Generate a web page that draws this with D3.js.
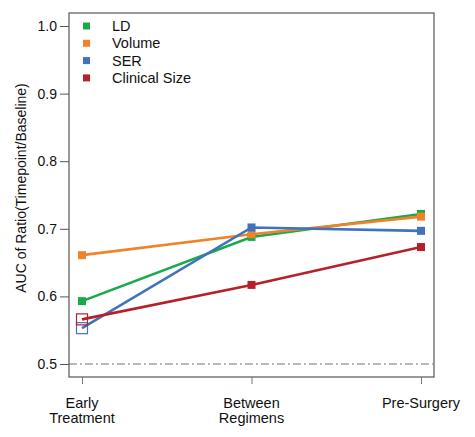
<!DOCTYPE html>
<html><head><meta charset="utf-8">
<script src="https://cdn.jsdelivr.net/npm/d3@7"></script>
<style>body{margin:0;background:#fff}svg{display:block;font-family:"Liberation Sans",Arial,sans-serif}</style>
</head><body><svg id="c" width="475" height="437"></svg>
<script>
const categories = ["Early\nTreatment", "Between\nRegimens", "Pre-Surgery"];
const seriesNames = ["LD", "Volume", "SER", "Clinical Size"];
const colors = ["#1aaa4a", "#f0822a", "#3f74bd", "#b5202a"];
const ldValues = [0.593, 0.688, 0.722];
const volumeValues = [0.661, 0.692, 0.718];
const serValues = [0.553, 0.702, 0.697];
const clinicalValues = [0.566, 0.617, 0.673];
const hollowFirst = [false, false, true, true];
const yTicks = [0.5, 0.6, 0.7, 0.8, 0.9, 1.0];
const refLine = 0.5;

const seriesValues = [ldValues, volumeValues, serValues, clinicalValues];
const svg = d3.select("#c");
const L = 69, R = 434, T = 13, B = 377;
const x = d3.scalePoint().domain(d3.range(categories.length)).range([82, 421]);
const y = d3.scaleLinear().domain([0.5, 1.0]).range([364, 26]);

// frame
svg.append("rect").attr("x", L).attr("y", T).attr("width", R - L).attr("height", B - T)
  .attr("fill", "none").attr("stroke", "#555").attr("stroke-width", 1.2);

// reference line
svg.append("line").attr("x1", L).attr("x2", R).attr("y1", y(refLine)).attr("y2", y(refLine))
  .attr("stroke", "#777").attr("stroke-width", 1.2).attr("stroke-dasharray", "8,3,2,3");

// y axis
const ya = svg.append("g").attr("transform", `translate(${L},0)`)
  .call(d3.axisLeft(y).tickValues(yTicks).tickFormat(d3.format(".1f")).tickSize(9).tickPadding(3));
ya.select(".domain").remove();
ya.selectAll("line").attr("stroke", "#555");
ya.selectAll("text").attr("font-size", 14).attr("fill", "#111").attr("font-family", "Liberation Sans, Arial, sans-serif");

// x axis
const xa = svg.append("g").attr("transform", `translate(0,${B})`)
  .call(d3.axisBottom(x).tickSize(7).tickFormat(""));
xa.select(".domain").remove();
xa.selectAll("line").attr("stroke", "#777");
categories.forEach((c, i) => {
  const t = svg.append("text").attr("x", x(i)).attr("y", 408).attr("text-anchor", "middle")
    .attr("font-size", 14.5).attr("fill", "#111");
  c.split("\n").forEach((ln, j) => t.append("tspan").attr("x", x(i)).attr("dy", j ? 15 : 0).text(ln));
});

// y label
svg.append("text").attr("transform", "translate(26,188) rotate(-90)").attr("text-anchor", "middle")
  .attr("font-size", 14).attr("fill", "#111").text("AUC of Ratio(Timepoint/Baseline)");

// lines
const line = d3.line().x((d, i) => x(i)).y(d => y(d));
seriesValues.forEach((vals, s) => {
  svg.append("path").datum(vals).attr("d", line).attr("fill", "none")
    .attr("stroke", colors[s]).attr("stroke-width", 2.6);
});
seriesValues.forEach((vals, s) => {
  vals.forEach((v, i) => {
    if (i === 0 && hollowFirst[s]) {
      svg.append("rect").attr("x", x(i) - 5.5).attr("y", y(v) - 5.5).attr("width", 11).attr("height", 11)
        .attr("fill", "none").attr("stroke", colors[s]).attr("stroke-width", 1.2);
    } else {
      svg.append("rect").attr("x", x(i) - 4).attr("y", y(v) - 4).attr("width", 8).attr("height", 8)
        .attr("fill", colors[s]);
    }
  });
});

// legend
seriesNames.forEach((n, s) => {
  const yy = 26 + s * 17.3;
  svg.append("rect").attr("x", 83).attr("y", yy - 3.5).attr("width", 7).attr("height", 7).attr("fill", colors[s]);
  svg.append("text").attr("x", 112).attr("y", yy + 5).attr("font-size", 14.5).attr("fill", "#111").text(n);
});
</script></body></html>
